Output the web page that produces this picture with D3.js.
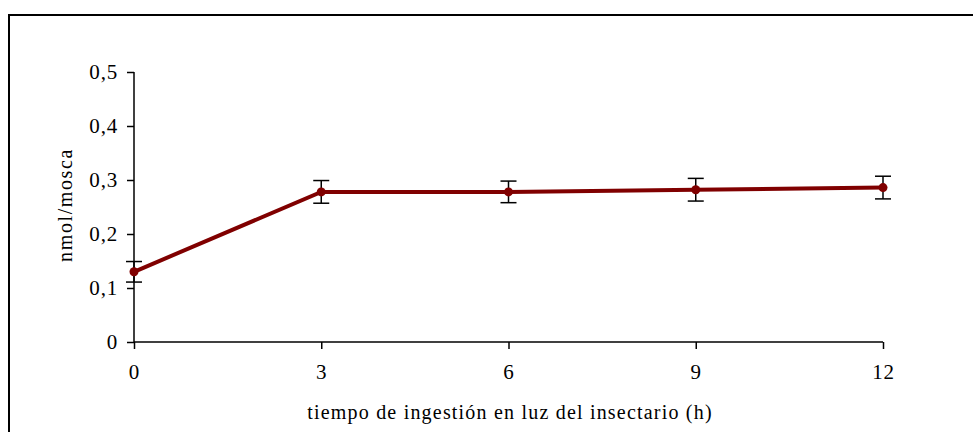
<!DOCTYPE html>
<html>
<head>
<meta charset="utf-8">
<script src="https://cdn.jsdelivr.net/npm/d3@7"></script>
<style>
  body { margin: 0; background: #fff; }
  text { font-family: "Liberation Serif", "Times New Roman", serif; fill: #000; }
</style>
</head>
<body>
<div class="chart"></div>
<script>
var hours = [0, 3, 6, 9, 12];
var means = [0.130, 0.278, 0.278, 0.282, 0.286];
var errors = [0.019, 0.021, 0.020, 0.021, 0.021];
var yTicks = [0, 0.1, 0.2, 0.3, 0.4, 0.5];

var margin = { top: 72, left: 134 };
var width = 883 - 134;
var height = 342 - 72;

var svg = d3.select('.chart')
    .append('svg')
    .attr('width', 973)
    .attr('height', 432);

// outer frame (runs off the canvas on the right and bottom)
svg.append('rect')
    .attr('x', 9).attr('y', 15)
    .attr('width', 1000).attr('height', 500)
    .attr('fill', 'none')
    .attr('stroke', '#000')
    .attr('stroke-width', 2);

var x = d3.scaleLinear().domain([0, 12]).range([0, width]);
var y = d3.scaleLinear().domain([0, 0.5]).range([height, 0]);
var fmt = d => d3.format('.1f')(d).replace('.', ',').replace(/^0,0$/, '0');

var g = svg.append('g')
    .attr('transform', `translate(${margin.left},${margin.top})`);

var yAxis = g.append('g')
    .call(d3.axisLeft(y).tickValues(yTicks).tickSize(7).tickPadding(9).tickFormat(fmt));
var xAxis = g.append('g')
    .attr('transform', `translate(0, ${height})`)
    .call(d3.axisBottom(x).tickValues(hours).tickSize(7).tickPadding(15).tickFormat(d3.format('d')));

[xAxis, yAxis].forEach(a => {
    a.attr('font-family', null).attr('font-size', null);
    a.select('.domain').attr('stroke', '#000').attr('stroke-width', 1.5);
    a.selectAll('.tick line').attr('stroke', '#000').attr('stroke-width', 1.5);
    a.selectAll('text')
        .style('font-size', '21px')
        .style('letter-spacing', '0.8px')
        .style('font-family', '"Liberation Serif", serif');
});
// axis domain without outer ticks
yAxis.select('.domain').attr('d', `M0,0V${height}`);
xAxis.select('.domain').attr('d', `M0,0H${width}`);

var pts = hours.map((h, i) => ({ h: h, m: means[i], e: errors[i] }));

g.append('path')
    .datum(pts)
    .attr('fill', 'none')
    .attr('stroke', '#800000')
    .attr('stroke-width', 4)
    .attr('d', d3.line().x(d => x(d.h)).y(d => y(d.m)));

var eb = g.selectAll('.eb').data(pts).enter().append('g').attr('class', 'eb');
eb.append('line')
    .attr('x1', d => x(d.h)).attr('x2', d => x(d.h))
    .attr('y1', d => y(d.m + d.e)).attr('y2', d => y(d.m - d.e));
eb.append('line')
    .attr('x1', d => x(d.h) - 8).attr('x2', d => x(d.h) + 8)
    .attr('y1', d => y(d.m + d.e)).attr('y2', d => y(d.m + d.e));
eb.append('line')
    .attr('x1', d => x(d.h) - 8).attr('x2', d => x(d.h) + 8)
    .attr('y1', d => y(d.m - d.e)).attr('y2', d => y(d.m - d.e));
eb.selectAll('line').attr('stroke', '#000').attr('stroke-width', 1.5);

g.selectAll('.pt').data(pts).enter().append('circle')
    .attr('cx', d => x(d.h)).attr('cy', d => y(d.m))
    .attr('r', 4.5)
    .attr('fill', '#800000');

svg.append('text')
    .attr('transform', 'translate(72,205) rotate(-90)')
    .attr('text-anchor', 'middle')
    .style('font-size', '20px')
    .style('letter-spacing', '1.6px')
    .text('nmol/mosca');

svg.append('text')
    .attr('x', 510).attr('y', 419)
    .attr('text-anchor', 'middle')
    .style('font-size', '20px')
    .style('letter-spacing', '1.2px')
    .text('tiempo de ingestión en luz del insectario (h)');
</script>
</body>
</html>
